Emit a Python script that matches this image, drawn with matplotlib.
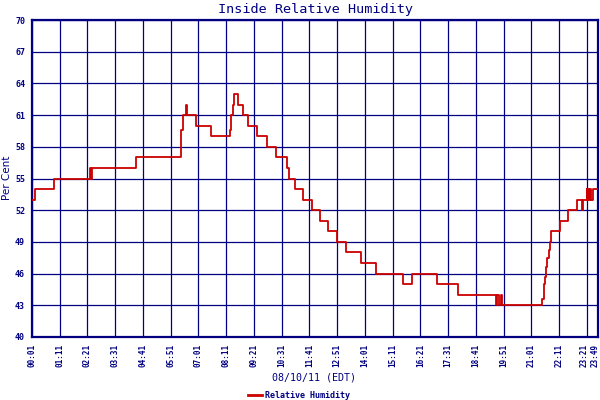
import matplotlib
matplotlib.use("Agg")
import matplotlib.pyplot as plt
from matplotlib.lines import Line2D

# ---- data ----
times = ["00:01", "00:09", "00:57", "02:28", "02:30", "02:33", "04:23", "06:13",
         "06:16", "06:18", "06:21", "06:23", "06:30", "06:31", "06:33", "06:54",
         "07:32", "08:21", "08:24", "08:27", "08:31", "08:40", "08:53", "09:07",
         "09:28", "09:53", "10:17", "10:44", "10:49", "11:04", "11:25", "11:47",
         "12:08", "12:28", "12:51", "13:12", "13:50", "14:29", "15:36", "15:59",
         "17:04", "17:57", "19:32", "19:35", "19:39", "19:45", "19:47", "21:28",
         "21:33", "21:36", "21:38", "21:41", "21:45", "21:48", "21:51", "22:13",
         "22:34", "22:55", "23:08", "23:10", "23:20", "23:22", "23:24", "23:26",
         "23:29", "23:31", "23:36", "23:49"]
humidity = [53, 54, 55, 56, 55, 56, 57, 57,
            58.5, 59.6, 60.1, 61, 62, 61.5, 61, 60,
            59, 59.6, 61, 62, 63, 62, 61, 60,
            59, 58, 57, 56, 55, 54, 53, 52,
            51, 50, 49, 48, 47, 46, 45, 46,
            45, 44, 43, 44, 43, 44, 43, 43.6,
            45, 45.7, 46.6, 47.5, 48.2, 49, 50, 51,
            52, 53, 52, 53, 54, 53, 54, 53,
            54, 53, 54, 54]
tick_labels = ["00:01", "01:11", "02:21", "03:31", "04:41", "05:51", "07:01",
               "08:11", "09:21", "10:31", "11:41", "12:51", "14:01", "15:11",
               "16:21", "17:31", "18:41", "19:51", "21:01", "22:11", "23:21",
               "23:49"]
y_ticks = [40, 43, 46, 49, 52, 55, 58, 61, 64, 67, 70]
title = "Inside Relative Humidity"
series_name = "Relative Humidity"
x_title = "08/10/11 (EDT)"
y_title = "Per Cent"


def to_min(s):
    h, m = s.split(":")
    return int(h) * 60 + int(m)


xs = [to_min(t) for t in times]
tick_pos = [to_min(t) for t in tick_labels]

NAVY = "#000080"
RED = "#cc0000"
MONO = "DejaVu Sans Mono"
XFONT = dict(rotation=90, fontsize=5.5, family=MONO, fontweight="bold",
             color=NAVY)

fig = plt.figure(figsize=(6, 4), dpi=100)
fig.patch.set_facecolor("white")
ax = fig.add_axes([32 / 600, 63 / 400, 566 / 600, 317 / 400])

ax.plot(xs, humidity, color=RED, lw=1.3, drawstyle="steps-post", zorder=3)

ax.set_xlim(tick_pos[0], tick_pos[-1])
ax.set_ylim(y_ticks[0], y_ticks[-1])
ax.set_xticks(tick_pos)
# last two labels are crowded at the right edge; place them by hand
ax.set_xticklabels(tick_labels[:-2] + ["", ""], **XFONT)
ax.annotate(tick_labels[-2], xy=(tick_pos[-2], 0),
            xycoords=("data", "axes fraction"), xytext=(-1.8, -5),
            textcoords="offset points", ha="center", va="top", **XFONT)
ax.annotate(tick_labels[-1], xy=(tick_pos[-1], 0),
            xycoords=("data", "axes fraction"), xytext=(1.2, -5),
            textcoords="offset points", ha="right", va="top", **XFONT)
ax.set_yticks(y_ticks)
ax.set_yticklabels([str(v) for v in y_ticks], fontsize=6, family=MONO,
                   fontweight="bold", color=NAVY)
ax.tick_params(length=0, pad=5)
ax.grid(True, color=NAVY, lw=0.9, zorder=1)
ax.set_axisbelow(True)
for sp in ax.spines.values():
    sp.set_color(NAVY)
    sp.set_linewidth(1.6)

fig.text(315 / 600, 1 - 9 / 400, title, ha="center", va="center",
         family=MONO, fontsize=9.7, color=NAVY)
fig.text(314 / 600, 1 - 378 / 400, x_title, ha="center", va="center",
         family=MONO, fontsize=7.2, color=NAVY)
fig.text(7 / 600, 1 - 178 / 400, y_title, ha="center", va="center",
         rotation=90, family="DejaVu Sans", fontsize=7.5, color=NAVY)

handle = Line2D([], [], color=RED, lw=2)
leg = fig.legend([handle], [series_name], loc="center",
                 bbox_to_anchor=(299 / 600, 1 - 395 / 400), frameon=False,
                 handlelength=1.6, handletextpad=0.4,
                 prop={"family": MONO, "size": 6, "weight": "bold"})
for t in leg.get_texts():
    t.set_color(NAVY)

fig.savefig("out.png", dpi=100, facecolor="white")
